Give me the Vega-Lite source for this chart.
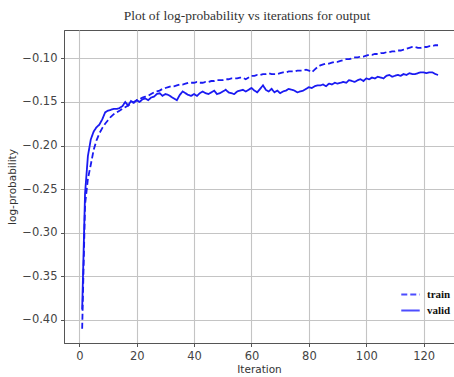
{
  "$schema": "https://vega.github.io/schema/vega-lite/v6.json",
  "autosize": {"type": "none"},
  "padding": {"left": 64, "top": 30, "right": 0, "bottom": 34},
  "width": 390,
  "height": 313,
  "title": {"text": "Plot of log-probability vs iterations for output", "anchor": "middle", "dx": -12, "offset": 8, "font": "Liberation Serif", "fontSize": 13.5, "fontWeight": "normal", "color": "#333333"},
  "config": {
    "view": {"stroke": "#555555", "strokeWidth": 1},
    "axis": {"labelFont": "DejaVu Sans", "labelFontSize": 11.5, "labelColor": "#444444", "titleFont": "DejaVu Sans", "titleFontSize": 10.5, "titleFontWeight": "normal", "titleColor": "#333333", "gridColor": "#c4c4c4", "gridWidth": 1.1, "domainColor": "#555555", "tickColor": "#555555", "tickSize": 3.5, "labelPadding": 3.5}
  },
  "data": {"values": [
    {"it":1,"train":-0.410,"valid":-0.388},{"it":2,"train":-0.268,"valid":-0.255},{"it":3,"train":-0.238,"valid":-0.212},{"it":4,"train":-0.222,"valid":-0.193},{"it":5,"train":-0.205,"valid":-0.184},
    {"it":6,"train":-0.194,"valid":-0.179},{"it":7,"train":-0.186,"valid":-0.176},{"it":8,"train":-0.180,"valid":-0.170},{"it":9,"train":-0.175,"valid":-0.162},{"it":10,"train":-0.171,"valid":-0.160},
    {"it":11,"train":-0.167,"valid":-0.159},{"it":12,"train":-0.164,"valid":-0.158},{"it":13,"train":-0.162,"valid":-0.158},{"it":14,"train":-0.160,"valid":-0.157},{"it":15,"train":-0.158,"valid":-0.155},
    {"it":16,"train":-0.156,"valid":-0.150},{"it":17,"train":-0.154,"valid":-0.154},{"it":18,"train":-0.152,"valid":-0.149},{"it":19,"train":-0.150,"valid":-0.151},{"it":20,"train":-0.148,"valid":-0.148},
    {"it":21,"train":-0.147,"valid":-0.150},{"it":22,"train":-0.145,"valid":-0.147},{"it":23,"train":-0.144,"valid":-0.146},{"it":24,"train":-0.143,"valid":-0.148},{"it":25,"train":-0.141,"valid":-0.145},
    {"it":26,"train":-0.139,"valid":-0.144},{"it":27,"train":-0.138,"valid":-0.141},{"it":28,"train":-0.137,"valid":-0.140},{"it":29,"train":-0.135,"valid":-0.143},{"it":30,"train":-0.134,"valid":-0.141},
    {"it":31,"train":-0.133,"valid":-0.142},{"it":32,"train":-0.132,"valid":-0.144},{"it":33,"train":-0.132,"valid":-0.146},{"it":34,"train":-0.131,"valid":-0.148},{"it":35,"train":-0.130,"valid":-0.142},
    {"it":36,"train":-0.130,"valid":-0.138},{"it":37,"train":-0.129,"valid":-0.140},{"it":38,"train":-0.128,"valid":-0.142},{"it":39,"train":-0.128,"valid":-0.143},{"it":40,"train":-0.128,"valid":-0.141},
    {"it":41,"train":-0.127,"valid":-0.143},{"it":42,"train":-0.128,"valid":-0.140},{"it":43,"train":-0.128,"valid":-0.138},{"it":44,"train":-0.127,"valid":-0.140},{"it":45,"train":-0.127,"valid":-0.141},
    {"it":46,"train":-0.126,"valid":-0.139},{"it":47,"train":-0.126,"valid":-0.137},{"it":48,"train":-0.125,"valid":-0.141},{"it":49,"train":-0.125,"valid":-0.140},{"it":50,"train":-0.125,"valid":-0.138},
    {"it":51,"train":-0.124,"valid":-0.136},{"it":52,"train":-0.124,"valid":-0.139},{"it":53,"train":-0.123,"valid":-0.140},{"it":54,"train":-0.123,"valid":-0.141},{"it":55,"train":-0.123,"valid":-0.138},
    {"it":56,"train":-0.122,"valid":-0.137},{"it":57,"train":-0.122,"valid":-0.136},{"it":58,"train":-0.124,"valid":-0.138},{"it":59,"train":-0.122,"valid":-0.136},{"it":60,"train":-0.120,"valid":-0.134},
    {"it":61,"train":-0.120,"valid":-0.137},{"it":62,"train":-0.119,"valid":-0.139},{"it":63,"train":-0.119,"valid":-0.135},{"it":64,"train":-0.118,"valid":-0.131},{"it":65,"train":-0.118,"valid":-0.136},
    {"it":66,"train":-0.117,"valid":-0.138},{"it":67,"train":-0.118,"valid":-0.135},{"it":68,"train":-0.118,"valid":-0.139},{"it":69,"train":-0.118,"valid":-0.137},{"it":70,"train":-0.117,"valid":-0.140},
    {"it":71,"train":-0.116,"valid":-0.138},{"it":72,"train":-0.116,"valid":-0.137},{"it":73,"train":-0.115,"valid":-0.135},{"it":74,"train":-0.115,"valid":-0.136},{"it":75,"train":-0.115,"valid":-0.137},
    {"it":76,"train":-0.114,"valid":-0.139},{"it":77,"train":-0.114,"valid":-0.138},{"it":78,"train":-0.114,"valid":-0.137},{"it":79,"train":-0.113,"valid":-0.135},{"it":80,"train":-0.114,"valid":-0.133},
    {"it":81,"train":-0.116,"valid":-0.134},{"it":82,"train":-0.113,"valid":-0.132},{"it":83,"train":-0.110,"valid":-0.131},{"it":84,"train":-0.108,"valid":-0.131},{"it":85,"train":-0.107,"valid":-0.130},
    {"it":86,"train":-0.106,"valid":-0.132},{"it":87,"train":-0.106,"valid":-0.129},{"it":88,"train":-0.105,"valid":-0.130},{"it":89,"train":-0.104,"valid":-0.128},{"it":90,"train":-0.104,"valid":-0.129},
    {"it":91,"train":-0.103,"valid":-0.128},{"it":92,"train":-0.102,"valid":-0.127},{"it":93,"train":-0.101,"valid":-0.128},{"it":94,"train":-0.101,"valid":-0.125},{"it":95,"train":-0.100,"valid":-0.126},
    {"it":96,"train":-0.099,"valid":-0.127},{"it":97,"train":-0.099,"valid":-0.125},{"it":98,"train":-0.098,"valid":-0.124},{"it":99,"train":-0.098,"valid":-0.126},{"it":100,"train":-0.097,"valid":-0.123},
    {"it":101,"train":-0.096,"valid":-0.124},{"it":102,"train":-0.096,"valid":-0.122},{"it":103,"train":-0.095,"valid":-0.123},{"it":104,"train":-0.095,"valid":-0.121},{"it":105,"train":-0.094,"valid":-0.122},
    {"it":106,"train":-0.094,"valid":-0.123},{"it":107,"train":-0.093,"valid":-0.120},{"it":108,"train":-0.093,"valid":-0.119},{"it":109,"train":-0.092,"valid":-0.121},{"it":110,"train":-0.092,"valid":-0.120},
    {"it":111,"train":-0.091,"valid":-0.119},{"it":112,"train":-0.091,"valid":-0.120},{"it":113,"train":-0.090,"valid":-0.118},{"it":114,"train":-0.089,"valid":-0.119},{"it":115,"train":-0.088,"valid":-0.117},
    {"it":116,"train":-0.087,"valid":-0.118},{"it":117,"train":-0.087,"valid":-0.118},{"it":118,"train":-0.088,"valid":-0.117},{"it":119,"train":-0.088,"valid":-0.116},{"it":120,"train":-0.087,"valid":-0.116},
    {"it":121,"train":-0.087,"valid":-0.117},{"it":122,"train":-0.086,"valid":-0.116},{"it":123,"train":-0.086,"valid":-0.116},{"it":124,"train":-0.085,"valid":-0.118},{"it":125,"train":-0.085,"valid":-0.119}
  ]},
  "transform": [{"fold": ["train", "valid"], "as": ["series", "value"]}],
  "mark": {"type": "line", "color": "#1a1af2", "strokeWidth": 1.8, "clip": true},
  "encoding": {
    "x": {"field": "it", "type": "quantitative", "scale": {"domain": [-5.33, 130.56], "nice": false, "zero": false}, "axis": {"title": "Iteration", "values": [0, 20, 40, 60, 80, 100, 120], "titlePadding": 3}},
    "y": {"field": "value", "type": "quantitative", "scale": {"domain": [-0.4264, -0.0675], "nice": false, "zero": false}, "axis": {"title": "log-probability", "values": [-0.40, -0.35, -0.30, -0.25, -0.20, -0.15, -0.10], "format": ".2f", "titlePadding": 4}},
    "strokeDash": {"field": "series", "type": "nominal", "scale": {"domain": ["train", "valid"], "range": [[6, 3], [1, 0]]},
      "legend": {"title": null, "orient": "none", "legendX": 336, "legendY": 254, "padding": 0, "symbolType": "stroke", "symbolSize": 340, "symbolStrokeWidth": 2, "symbolStrokeColor": "#4d4dff", "symbolDash": null, "labelFont": "Liberation Serif", "labelFontSize": 11, "labelFontWeight": "bold", "labelColor": "#111111", "labelOffset": 6, "rowPadding": 0}}
  }
}
